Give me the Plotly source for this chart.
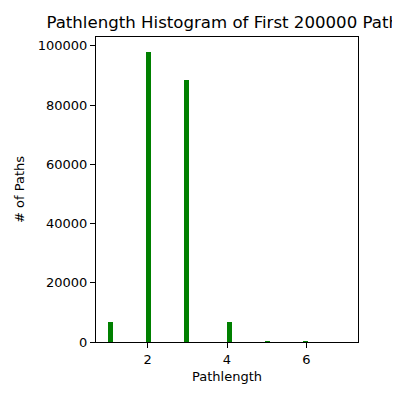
import numpy as np
import plotly.graph_objects as go

# path length -> number of paths (first 200000 paths)
pathlengths = [1, 2, 3, 4, 5, 6, 7]
counts = [6800, 97950, 88400, 6750, 260, 3, 1]

# matplotlib-style histogram: 50 bins over [1, 7]
n_bins = 50
lo, hi = min(pathlengths), max(pathlengths)
bin_w = (hi - lo) / n_bins
bin_idx = [min(int(np.floor((v - lo) / bin_w + 1e-9)), n_bins - 1) for v in pathlengths]
bin_left = [lo + i * bin_w for i in bin_idx]

fig = go.Figure()
fig.add_trace(
    go.Bar(
        x=bin_left,
        y=counts,
        width=bin_w,
        offset=0,
        marker=dict(color="#008000", line=dict(width=0)),
        hovertemplate="Pathlength: %{x}<br># of Paths: %{y}<extra></extra>",
    )
)

axis_common = dict(
    showline=True,
    linecolor="black",
    linewidth=1,
    mirror=True,
    ticks="outside",
    ticklen=5,
    tickcolor="black",
    showgrid=False,
    zeroline=False,
    tickfont=dict(size=13, color="black"),
)

# page body has an 8px margin, so the figure is a bit smaller than the window
W, H = 392, 392
fig.update_layout(
    width=W,
    height=H,
    margin=dict(l=88, r=42, t=29, b=58),
    paper_bgcolor="white",
    plot_bgcolor="white",
    font=dict(family="DejaVu Sans", color="black"),
    title=dict(
        text="Pathlength Histogram of First 200000 Paths",
        x=(88 + W - 42) / 2 / W,
        xanchor="center",
        y=1 - 14 / H,
        yanchor="middle",
        font=dict(size=16.6),
        automargin=False,
    ),
    xaxis=dict(
        axis_common,
        automargin=False,
        range=[0.7, 7.3],
        tickvals=[2, 4, 6],
        title=dict(text="Pathlength", font=dict(size=13), standoff=6),
    ),
    yaxis=dict(
        axis_common,
        automargin=True,
        range=[0, 103000],
        tickvals=[0, 20000, 40000, 60000, 80000, 100000],
        tickformat="d",
        title=dict(text="# of Paths", font=dict(size=13), standoff=10),
    ),
    showlegend=False,
    bargap=0,
)

fig.write_html("out.html")
